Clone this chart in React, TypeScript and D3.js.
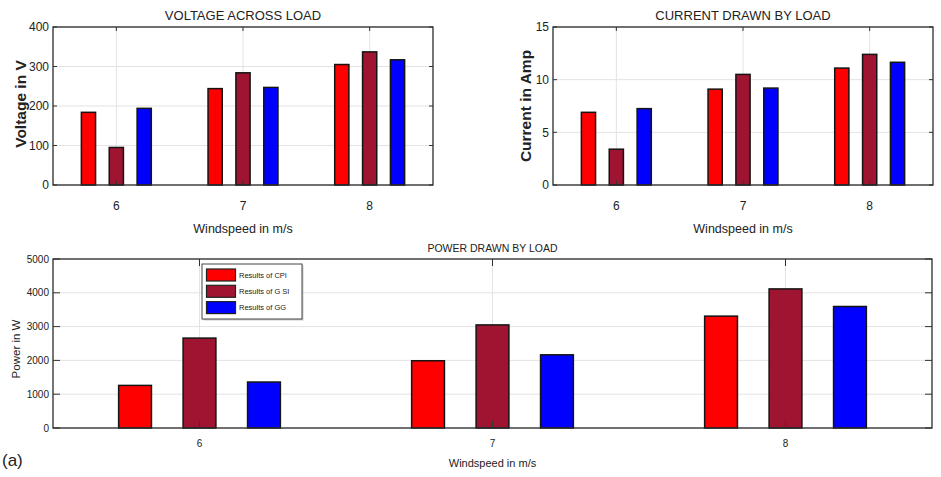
import React from "react";
import * as d3 from "d3";

const windSpeeds = [6, 7, 8];
const seriesNames = ["Results of CPI", "Results of G SI", "Results of GG"];
const seriesColors = ["#ff0000", "#9e1431", "#0000ff"];

// One row per method (CPI, G SI, GG), one column per wind speed
const voltage = [
  [184, 244, 305],
  [95, 284, 337],
  [194, 247, 317],
];
const current = [
  [6.9, 9.1, 11.1],
  [3.4, 10.5, 12.4],
  [7.25, 9.2, 11.65],
];
const power = [
  [1260, 1990, 3310],
  [2660, 3050, 4115],
  [1360, 2165, 3595],
];

const voltageTicks = [0, 100, 200, 300, 400];
const currentTicks = [0, 5, 10, 15];
const powerTicks = [0, 1000, 2000, 3000, 4000, 5000];

const FONT = "'Liberation Sans Narrow', 'Liberation Sans', Arial, sans-serif";

type PanelProps = {
  left: number;
  right: number;
  top: number;
  bottom: number;
  data: number[][];
  yMax: number;
  yTicks: number[];
  title: string;
  titleY: number;
  titleSize: number;
  yLabel: string;
  yLabelX: number;
  yLabelY: number;
  yLabelSize: number;
  yLabelBold: boolean;
  tickSize: number;
  xLabelY: number;
  xLabelSize: number;
  xTickY: number;
  tickLen: number;
};

function BarPanel(p: PanelProps) {
  const x = d3.scaleLinear().domain([5.5, 8.5]).range([p.left, p.right]);
  const y = d3.scaleLinear().domain([0, p.yMax]).range([p.bottom, p.top]);
  const unit = x(1) - x(0);
  const barW = unit * 0.112;
  const offsets = [-0.22, 0, 0.22];
  const cx = (p.left + p.right) / 2;
  return (
    <g>
      <rect x={p.left} y={p.top} width={p.right - p.left} height={p.bottom - p.top} fill="#fff" />
      {p.yTicks.map((t) => (
        <line key={"gy" + t} x1={p.left} x2={p.right} y1={y(t)} y2={y(t)} stroke="#e3e3e3" strokeWidth={1} />
      ))}
      {windSpeeds.map((w) => (
        <line key={"gx" + w} x1={x(w)} x2={x(w)} y1={p.top} y2={p.bottom} stroke="#e3e3e3" strokeWidth={1} />
      ))}
      {p.data.map((series, si) =>
        series.map((v, wi) => {
          const bx = x(windSpeeds[wi] + offsets[si]) - barW / 2;
          return (
            <rect
              key={si + "-" + wi}
              x={bx}
              y={y(v)}
              width={barW}
              height={y(0) - y(v)}
              fill={seriesColors[si]}
              stroke="#141414"
              strokeWidth={1.5}
            />
          );
        })
      )}
      {p.yTicks.map((t) => (
        <g key={"ty" + t}>
          <line x1={p.left} x2={p.left + p.tickLen} y1={y(t)} y2={y(t)} stroke="#333" />
          <line x1={p.right} x2={p.right - p.tickLen} y1={y(t)} y2={y(t)} stroke="#333" />
          <text x={p.left - 4} y={y(t)} dy="0.35em" textAnchor="end" fontSize={p.tickSize} fill="#222" fontFamily={FONT}>
            {t}
          </text>
        </g>
      ))}
      {windSpeeds.map((w) => (
        <g key={"tx" + w}>
          <line x1={x(w)} x2={x(w)} y1={p.bottom} y2={p.bottom - p.tickLen} stroke="#333" />
          <line x1={x(w)} x2={x(w)} y1={p.top} y2={p.top + p.tickLen} stroke="#333" />
          <text x={x(w)} y={p.xTickY} textAnchor="middle" fontSize={p.tickSize} fill="#222" fontFamily={FONT}>
            {w}
          </text>
        </g>
      ))}
      <rect x={p.left} y={p.top} width={p.right - p.left} height={p.bottom - p.top} fill="none" stroke="#2b2b2b" strokeWidth={1.3} />
      <text x={cx} y={p.titleY} textAnchor="middle" fontSize={p.titleSize} fill="#222" fontFamily={FONT}>
        {p.title}
      </text>
      <text x={cx} y={p.xLabelY} textAnchor="middle" fontSize={p.xLabelSize} fill="#222" fontFamily={FONT}>
        Windspeed in m/s
      </text>
      <text
        transform={`translate(${p.yLabelX},${p.yLabelY}) rotate(-90)`}
        textAnchor="middle"
        fontSize={p.yLabelSize}
        fontWeight={p.yLabelBold ? "bold" : "normal"}
        fill="#222"
        fontFamily={p.yLabelBold ? "'Liberation Sans', Arial, sans-serif" : FONT}
      >
        {p.yLabel}
      </text>
    </g>
  );
}

function Legend({ x, y }: { x: number; y: number }) {
  const w = 100;
  const h = 55;
  return (
    <g>
      <rect x={x + 1.5} y={y + 1.5} width={w} height={h} fill="#999" opacity={0.5} />
      <rect x={x} y={y} width={w} height={h} fill="#fff" stroke="#444" strokeWidth={1} />
      {seriesNames.map((name, i) => (
        <g key={name}>
          <rect x={x + 4.5} y={y + 5 + i * 16.3} width={29} height={12} fill={seriesColors[i]} stroke="#222" strokeWidth={1.2} />
          <text x={x + 37} y={y + 11 + i * 16.3} dy="0.35em" fontSize={7.5} fill="#222" fontFamily={FONT}>
            {name}
          </text>
        </g>
      ))}
    </g>
  );
}

export default function App() {
  return (
    <svg width={941} height={477} style={{ position: "absolute", left: 0, top: 0, background: "#fff" }}>
      <rect width={941} height={477} fill="#fff" />
      <BarPanel
        left={53}
        right={433}
        top={27}
        bottom={185}
        data={voltage}
        yMax={400}
        yTicks={voltageTicks}
        title="VOLTAGE ACROSS LOAD"
        titleY={20}
        titleSize={13}
        yLabel="Voltage in V"
        yLabelX={26}
        yLabelY={104}
        yLabelSize={15.5}
        yLabelBold={true}
        tickSize={12}
        xLabelY={233}
        xLabelSize={12.5}
        xTickY={210}
        tickLen={4}
      />
      <BarPanel
        left={553}
        right={933}
        top={27}
        bottom={185}
        data={current}
        yMax={15}
        yTicks={currentTicks}
        title="CURRENT DRAWN BY LOAD"
        titleY={20}
        titleSize={13}
        yLabel="Current in Amp"
        yLabelX={531}
        yLabelY={106}
        yLabelSize={15.5}
        yLabelBold={true}
        tickSize={12}
        xLabelY={233}
        xLabelSize={12.5}
        xTickY={210}
        tickLen={4}
      />
      <BarPanel
        left={53}
        right={932}
        top={259}
        bottom={428}
        data={power}
        yMax={5000}
        yTicks={powerTicks}
        title="POWER DRAWN BY LOAD"
        titleY={252}
        titleSize={10.5}
        yLabel="Power in W"
        yLabelX={20}
        yLabelY={349}
        yLabelSize={11.5}
        yLabelBold={false}
        tickSize={10}
        xLabelY={467}
        xLabelSize={11}
        xTickY={447}
        tickLen={7}
      />
      <Legend x={202} y={264} />
      <text x={2} y={466} fontSize={17} fill="#222" fontFamily="'Liberation Sans', Arial, sans-serif">
        (a)
      </text>
    </svg>
  );
}
